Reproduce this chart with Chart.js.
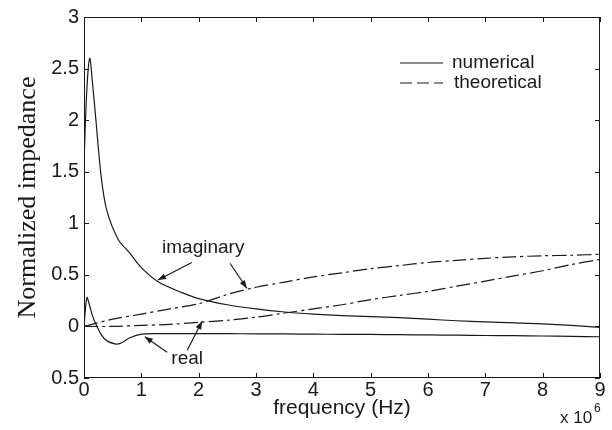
<!DOCTYPE html>
<html>
<head>
<meta charset="utf-8">
<script src="https://cdn.jsdelivr.net/npm/chart.js@4/dist/chart.umd.min.js"></script>
<style>
  html, body { margin: 0; padding: 0; background: #fff; }
  #wrap { width: 612px; height: 430px; }
</style>
</head>
<body>
<div id="wrap"><canvas id="impChart"></canvas></div>
<script>
// frequency samples (x 10^6 Hz)
const freqNum = [0, 0.05, 0.1, 0.15, 0.2, 0.3, 0.4, 0.6, 0.8, 1.0, 1.3, 1.7, 2.0, 2.5, 3, 3.5, 4, 4.5, 5, 5.5, 6, 6.5, 7, 7.5, 8, 8.5, 9];
const freqTheo = [0, 0.5, 1, 1.5, 2, 2.5, 3, 3.5, 4, 4.5, 5, 5.5, 6, 6.5, 7, 7.5, 8, 8.5, 9];

// numerical results
const numImag = [1.6, 2.3, 2.6, 2.35, 2.05, 1.45, 1.12, 0.84, 0.71, 0.57, 0.43, 0.33, 0.27, 0.21, 0.17, 0.14, 0.12, 0.105, 0.095, 0.085, 0.07, 0.055, 0.045, 0.035, 0.025, 0.01, -0.01];
const numReal = [0, 0.28, 0.2, 0.1, 0.03, -0.08, -0.14, -0.17, -0.11, -0.075, -0.07, -0.07, -0.07, -0.07, -0.072, -0.073, -0.075, -0.077, -0.078, -0.08, -0.082, -0.085, -0.088, -0.09, -0.093, -0.096, -0.1];

// theoretical results
const theoImag = [0, 0.07, 0.12, 0.17, 0.22, 0.31, 0.38, 0.43, 0.48, 0.52, 0.56, 0.59, 0.62, 0.64, 0.66, 0.675, 0.685, 0.69, 0.7];
const theoReal = [0, 0.0, 0.01, 0.02, 0.04, 0.06, 0.09, 0.13, 0.17, 0.21, 0.26, 0.3, 0.34, 0.39, 0.44, 0.49, 0.54, 0.6, 0.65];

const xTicks = [0, 1, 2, 3, 4, 5, 6, 7, 8, 9];
const yTicks = [-0.5, 0, 0.5, 1, 1.5, 2, 2.5, 3];
const yTickLabels = ['0.5', '0', '0.5', '1', '1.5', '2', '2.5', '3'];

const pts = (xs, ys) => xs.map((x, i) => ({ x: x, y: ys[i] }));

const ink = '#1a1a1a';
const dashDot = [14, 4, 3, 4];
const sans = 'Liberation Sans';

// text notes with arrows, in data units
const notes = [
  { text: 'imaginary', x: 2.08, y: 0.76, arrows: [[1.88, 0.62, 1.29, 0.45], [2.55, 0.61, 2.84, 0.37]] },
  { text: 'real', x: 1.8, y: -0.31, arrows: [[1.45, -0.25, 1.06, -0.1], [1.8, -0.23, 2.06, 0.05]] }
];

function arrow(ctx, x1, y1, x2, y2) {
  ctx.beginPath();
  ctx.moveTo(x1, y1);
  ctx.lineTo(x2, y2);
  ctx.stroke();
  const a = Math.atan2(y2 - y1, x2 - x1);
  const len = 8, w = 3;
  ctx.beginPath();
  ctx.moveTo(x2, y2);
  ctx.lineTo(x2 - len * Math.cos(a) + w * Math.sin(a), y2 - len * Math.sin(a) - w * Math.cos(a));
  ctx.lineTo(x2 - len * Math.cos(a) - w * Math.sin(a), y2 - len * Math.sin(a) + w * Math.cos(a));
  ctx.closePath();
  ctx.fill();
}

const frameAndNotes = {
  id: 'frameAndNotes',
  afterDraw(chart) {
    const { ctx, chartArea: a, scales: { x, y } } = chart;
    ctx.save();
    ctx.strokeStyle = ink;
    ctx.fillStyle = ink;
    ctx.lineWidth = 1;
    ctx.strokeRect(a.left + 0.5, a.top + 0.5, a.right - a.left - 1, a.bottom - a.top - 1);

    // inward ticks, all four sides
    xTicks.forEach(v => {
      const px = Math.round(x.getPixelForValue(v)) + 0.5;
      ctx.beginPath();
      ctx.moveTo(px, a.bottom); ctx.lineTo(px, a.bottom - 5);
      ctx.moveTo(px, a.top); ctx.lineTo(px, a.top + 5);
      ctx.stroke();
    });
    yTicks.forEach(v => {
      const py = Math.round(y.getPixelForValue(v)) + 0.5;
      ctx.beginPath();
      ctx.moveTo(a.left, py); ctx.lineTo(a.left + 5, py);
      ctx.moveTo(a.right, py); ctx.lineTo(a.right - 5, py);
      ctx.stroke();
    });

    // legend
    ctx.lineWidth = 1.2;
    ctx.font = '19px "' + sans + '"';
    ctx.textBaseline = 'middle';
    ctx.textAlign = 'left';
    ctx.beginPath();
    ctx.moveTo(400, 63); ctx.lineTo(443, 63);
    ctx.stroke();
    ctx.fillText('numerical', 452, 63);
    ctx.setLineDash([12, 5]);
    ctx.beginPath();
    ctx.moveTo(400, 83); ctx.lineTo(443, 83);
    ctx.stroke();
    ctx.setLineDash([]);
    ctx.fillText('theoretical', 454, 83);

    // notes
    ctx.textAlign = 'center';
    notes.forEach(n => {
      ctx.fillText(n.text, x.getPixelForValue(n.x), y.getPixelForValue(n.y));
      n.arrows.forEach(ar => arrow(ctx,
        x.getPixelForValue(ar[0]), y.getPixelForValue(ar[1]),
        x.getPixelForValue(ar[2]), y.getPixelForValue(ar[3])));
    });

    // axis multiplier
    ctx.textAlign = 'left';
    ctx.textBaseline = 'alphabetic';
    ctx.font = '17px "' + sans + '"';
    ctx.fillText('x 10', 560, 423);
    ctx.font = '12px "' + sans + '"';
    ctx.fillText('6', 594, 412);
    ctx.restore();
  }
};

const ctx = document.getElementById('impChart').getContext('2d');

new Chart(ctx, {
  type: 'line',
  data: {
    datasets: [
      { label: 'numerical imaginary', data: pts(freqNum, numImag), borderColor: ink, borderWidth: 1.2, pointRadius: 0, tension: 0.3, fill: false },
      { label: 'numerical real', data: pts(freqNum, numReal), borderColor: ink, borderWidth: 1.2, pointRadius: 0, tension: 0.3, fill: false },
      { label: 'theoretical imaginary', data: pts(freqTheo, theoImag), borderColor: ink, borderWidth: 1.2, borderDash: dashDot, pointRadius: 0, tension: 0.3, fill: false },
      { label: 'theoretical real', data: pts(freqTheo, theoReal), borderColor: ink, borderWidth: 1.2, borderDash: dashDot, pointRadius: 0, tension: 0.3, fill: false }
    ]
  },
  options: {
    responsive: true,
    maintainAspectRatio: false,
    animation: false,
    layout: { padding: { top: 17, right: 12, left: 0, bottom: 0 } },
    plugins: {
      legend: { display: false },
      tooltip: { enabled: false }
    },
    scales: {
      x: {
        type: 'linear',
        min: 0,
        max: 9,
        afterFit: s => { s.height = 52; },
        afterBuildTicks: s => { s.ticks = xTicks.map(v => ({ value: v })); },
        grid: { display: false, drawTicks: false },
        border: { display: false },
        ticks: { color: ink, padding: 0, autoSkip: false, maxRotation: 0, font: { family: sans, size: 20 } },
        title: {
          display: true,
          text: 'frequency (Hz)',
          color: ink,
          padding: { top: 0, bottom: 9 },
          font: { family: sans, size: 21 }
        }
      },
      y: {
        min: -0.5,
        max: 3,
        afterFit: s => { s.width = 84; },
        afterBuildTicks: s => { s.ticks = yTicks.map(v => ({ value: v })); },
        grid: { display: false, drawTicks: false },
        border: { display: false },
        ticks: {
          color: ink,
          padding: 5,
          autoSkip: false,
          font: { family: sans, size: 20 },
          callback: (v, i) => yTickLabels[i]
        },
        title: {
          display: true,
          text: 'Normalized impedance',
          color: ink,
          padding: { top: 13, bottom: 0 },
          font: { family: 'Liberation Serif', size: 26 }
        }
      }
    }
  },
  plugins: [frameAndNotes]
});
</script>
</body>
</html>
